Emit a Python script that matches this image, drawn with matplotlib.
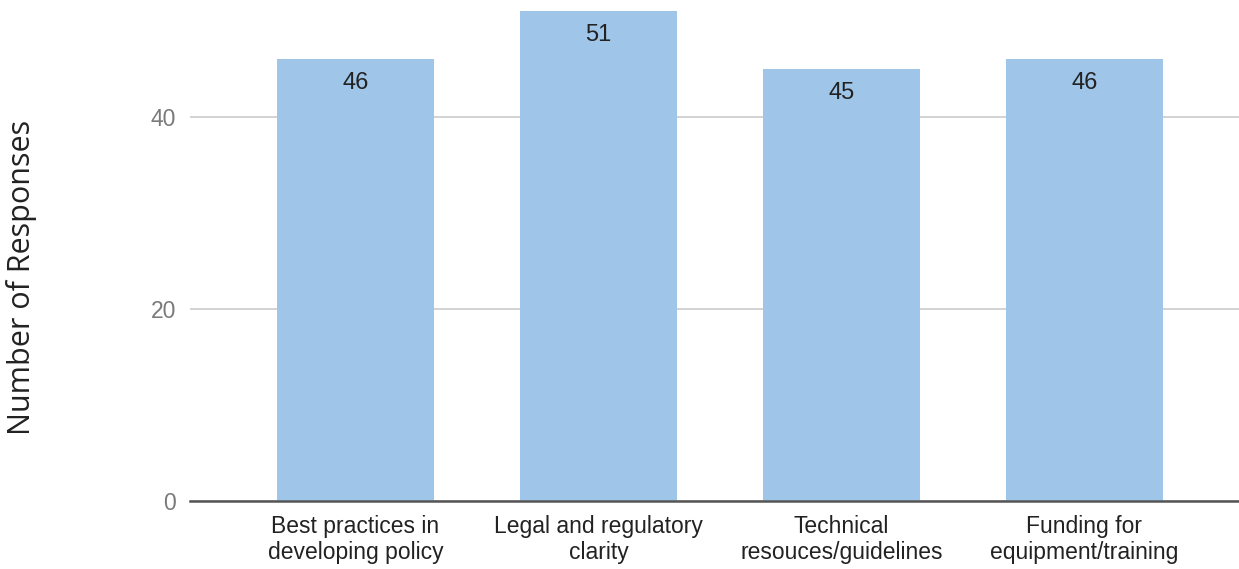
import matplotlib.pyplot as plt
import numpy as np

categories = ["Best practices in\ndeveloping policy", "Legal and regulatory\nclarity",
              "Technical\nresouces/guidelines", "Funding for\nequipment/training"]
responses = [46, 51, 45, 46]
y_ticks = [0, 20, 40]

fig = plt.figure(figsize=(12.39, 5.69), dpi=100)
ax = fig.add_axes([190 / 1239, 1 - 501 / 569, 1 - 190 / 1239, 501 / 569])

x = np.arange(len(categories))
ax.bar(x, responses, width=0.646, color="#9fc5e8", zorder=2)
for xi, v in zip(x, responses):
    ax.text(xi, v - 2.5, str(v), ha="center", va="center", fontsize=17,
            family="Liberation Sans", color="#222222", zorder=3)

ax.set_xlim(-0.681, 3.636)
ax.set_ylim(0, 52.15)
ax.set_yticks(y_ticks)
ax.set_yticklabels([str(t) for t in y_ticks], fontsize=16.5, family="Liberation Sans", color="#7a7a7a")
ax.set_xticks(x)
ax.set_xticklabels(categories, fontsize=16.5, family="Liberation Sans", color="#222222", linespacing=1.2)
ax.tick_params(axis="both", length=0)
ax.tick_params(axis="y", pad=10)
ax.tick_params(axis="x", pad=10)
ax.yaxis.grid(True, color="#cccccc", linewidth=1.2, zorder=1)
for s in ["top", "right", "left"]:
    ax.spines[s].set_visible(False)
ax.spines["bottom"].set_color("#555555")
ax.spines["bottom"].set_linewidth(1.8)
ax.spines["bottom"].set_zorder(3)

fig.text(22 / 1239, 1 - 277 / 569, "Number of Responses", rotation=90, ha="center", va="center",
         fontsize=22, family="Open Sans", color="#222222")

fig.savefig("out.png", dpi=100)
